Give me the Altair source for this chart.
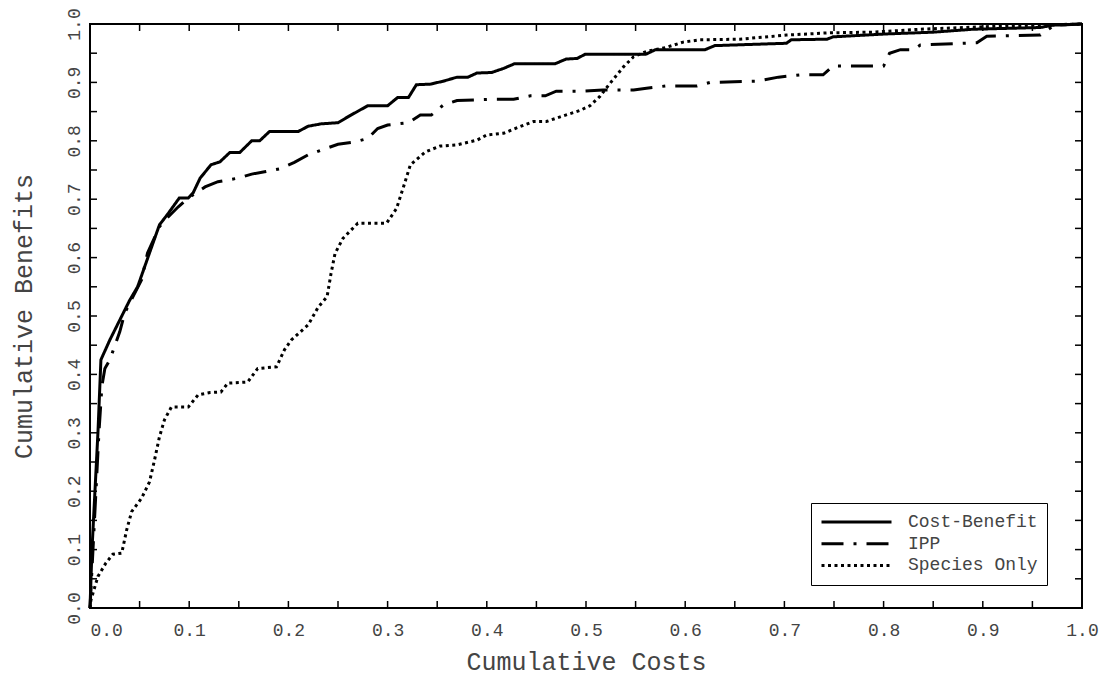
import altair as alt
import pandas as pd

SERIES = ["Cost-Benefit", "IPP", "Species Only"]

CB_X = [0.0, 0.002, 0.005, 0.008, 0.011, 0.020, 0.040, 0.048, 0.060, 0.070, 0.079, 0.090, 0.099, 0.104,
        0.111, 0.122, 0.131, 0.141, 0.151, 0.163, 0.171, 0.181, 0.210, 0.220, 0.233, 0.250, 0.263, 0.280,
        0.300, 0.310, 0.321, 0.329, 0.343, 0.356, 0.370, 0.381, 0.390, 0.405, 0.417, 0.428, 0.469, 0.480,
        0.491, 0.499, 0.560, 0.570, 0.620, 0.630, 0.702, 0.707, 0.743, 0.749, 0.803, 0.850, 0.890, 0.958,
        0.971, 1.0]
CB_Y = [0.0, 0.10, 0.20, 0.30, 0.425, 0.459, 0.527, 0.550, 0.608, 0.656, 0.676, 0.702, 0.702, 0.711,
        0.736, 0.759, 0.764, 0.780, 0.780, 0.800, 0.800, 0.816, 0.816, 0.825, 0.829, 0.831, 0.844, 0.860,
        0.860, 0.874, 0.874, 0.896, 0.897, 0.902, 0.909, 0.909, 0.916, 0.917, 0.924, 0.932, 0.932, 0.940,
        0.941, 0.948, 0.948, 0.956, 0.956, 0.963, 0.967, 0.973, 0.974, 0.978, 0.983, 0.986, 0.991, 0.994,
        0.998, 1.0]

IPP_X = [0.0, 0.003, 0.006, 0.009, 0.012, 0.015, 0.020, 0.030, 0.035, 0.052, 0.058, 0.070, 0.079, 0.089,
         0.099, 0.116, 0.129, 0.149, 0.163, 0.176, 0.191, 0.206, 0.220, 0.233, 0.250, 0.267, 0.280, 0.290,
         0.300, 0.321, 0.333, 0.344, 0.356, 0.370, 0.403, 0.427, 0.444, 0.459, 0.470, 0.494, 0.517, 0.548,
         0.561, 0.581, 0.612, 0.625, 0.672, 0.694, 0.716, 0.739, 0.749, 0.800, 0.806, 0.817, 0.830, 0.837,
         0.894, 0.904, 0.958, 0.968, 0.971, 1.0]
IPP_Y = [0.0, 0.10, 0.20, 0.30, 0.38, 0.41, 0.425, 0.473, 0.505, 0.562, 0.608, 0.653, 0.670, 0.687,
         0.702, 0.721, 0.730, 0.736, 0.743, 0.747, 0.752, 0.763, 0.776, 0.784, 0.794, 0.798, 0.804, 0.821,
         0.827, 0.831, 0.844, 0.844, 0.861, 0.869, 0.871, 0.871, 0.877, 0.877, 0.885, 0.885, 0.887, 0.887,
         0.890, 0.894, 0.894, 0.900, 0.902, 0.909, 0.913, 0.913, 0.928, 0.928, 0.950, 0.956, 0.956, 0.964,
         0.968, 0.979, 0.981, 0.993, 0.998, 1.0]

SP_X = [0.0, 0.001, 0.008, 0.016, 0.023, 0.032, 0.037, 0.042, 0.052, 0.060, 0.065, 0.070, 0.075, 0.082,
        0.099, 0.109, 0.121, 0.132, 0.139, 0.159, 0.169, 0.188, 0.196, 0.203, 0.220, 0.230, 0.239, 0.243,
        0.247, 0.255, 0.270, 0.299, 0.309, 0.316, 0.323, 0.338, 0.353, 0.370, 0.390, 0.400, 0.417, 0.433,
        0.447, 0.460, 0.474, 0.494, 0.504, 0.514, 0.524, 0.538, 0.548, 0.561, 0.581, 0.598, 0.615, 0.655,
        0.702, 0.746, 0.789, 0.837, 0.897, 0.927, 1.0]
SP_Y = [0.0, 0.014, 0.054, 0.077, 0.092, 0.094, 0.134, 0.165, 0.188, 0.216, 0.253, 0.293, 0.322, 0.344,
        0.344, 0.365, 0.369, 0.370, 0.385, 0.387, 0.410, 0.413, 0.442, 0.459, 0.485, 0.515, 0.533, 0.573,
        0.607, 0.633, 0.659, 0.659, 0.684, 0.721, 0.759, 0.781, 0.791, 0.793, 0.801, 0.810, 0.813, 0.824,
        0.833, 0.833, 0.841, 0.852, 0.860, 0.876, 0.898, 0.927, 0.944, 0.953, 0.960, 0.969, 0.973, 0.974,
        0.981, 0.985, 0.986, 0.991, 0.995, 0.997, 1.0]

TICKS = [0.0, 0.05, 0.1, 0.15, 0.2, 0.25, 0.3, 0.35, 0.4, 0.45, 0.5,
         0.55, 0.6, 0.65, 0.7, 0.75, 0.8, 0.85, 0.9, 0.95, 1.0]
LABEL_TICKS = [0.0, 0.1, 0.2, 0.3, 0.4, 0.5, 0.6, 0.7, 0.8, 0.9, 1.0]

rows = []
for name, xs, ys in zip(SERIES, [CB_X, IPP_X, SP_X], [CB_Y, IPP_Y, SP_Y]):
    for i, (x, y) in enumerate(zip(xs, ys)):
        rows.append({"series": name, "cost": x, "benefit": y, "i": i})
df = pd.DataFrame(rows)
ticks_df = pd.DataFrame({"t": TICKS})

W, H = 992, 584
FONT = "Liberation Mono"
TXT = "#444444"
TICK_LEN = 7

xscale = alt.Scale(domain=[0, 1], nice=False, zero=False)
yscale = alt.Scale(domain=[0, 1], nice=False, zero=False)

x_axis = alt.Axis(
    values=LABEL_TICKS, format=".1f", ticks=False, tickSize=0, domain=False, grid=False,
    labelFont=FONT, labelFontSize=18, labelColor=TXT, labelPadding=27,
    labelBaseline="alphabetic", labelOverlap=False,
    labelAlign={"condition": {"test": "datum.value <= 0", "value": "left"}, "value": "center"},
    title="Cumulative Costs", titleFont=FONT, titleFontSize=25, titleFontWeight="normal",
    titleColor=TXT, titleX=W / 2, titleY=61, titleAlign="center", titleBaseline="alphabetic",
)
y_axis = alt.Axis(
    values=LABEL_TICKS, format=".1f", ticks=False, tickSize=0, domain=False, grid=False,
    labelFont=FONT, labelFontSize=18, labelColor=TXT, labelPadding=11, labelAngle=270,
    labelAlign="center", labelBaseline="alphabetic", labelOverlap=False,
    title="Cumulative Benefits", titleFont=FONT, titleFontSize=25, titleFontWeight="normal",
    titleColor=TXT, titleX=-59, titleY=H / 2, titleAngle=270, titleAlign="center",
    titleBaseline="alphabetic",
)

lines = alt.Chart(df).mark_line(color="black", strokeWidth=3).encode(
    x=alt.X("cost:Q", scale=xscale, axis=x_axis),
    y=alt.Y("benefit:Q", scale=yscale, axis=y_axis),
    strokeDash=alt.StrokeDash(
        "series:N",
        scale=alt.Scale(domain=SERIES, range=[[1, 0], [22, 10, 3, 10], [3, 3.5]]),
        legend=alt.Legend(
            title=None, orient="none", legendX=721, legendY=479,
            symbolType="stroke", symbolSize=4900, symbolStrokeWidth=3,
            symbolStrokeColor="black", clipHeight=20, rowPadding=1.7, labelOffset=15,
            padding=9, strokeColor="black", fillColor="white", cornerRadius=0,
            labelFont=FONT, labelFontSize=18, labelColor=TXT,
        ),
    ),
    order=alt.Order("i:Q"),
)

base_t = alt.Chart(ticks_df).mark_rule(color="black", strokeWidth=1.5)
tick_bottom = base_t.encode(x=alt.X("t:Q", scale=xscale, axis=x_axis),
                            y=alt.value(H), y2=alt.value(H - TICK_LEN))
tick_top = base_t.encode(x=alt.X("t:Q", scale=xscale, axis=x_axis),
                         y=alt.value(0), y2=alt.value(TICK_LEN))
tick_left = base_t.encode(y=alt.Y("t:Q", scale=yscale, axis=y_axis),
                          x=alt.value(0), x2=alt.value(TICK_LEN))
tick_right = base_t.encode(y=alt.Y("t:Q", scale=yscale, axis=y_axis),
                           x=alt.value(W), x2=alt.value(W - TICK_LEN))

chart = alt.layer(lines, tick_bottom, tick_top, tick_left, tick_right).properties(
    width=W, height=H,
    padding={"left": 82, "top": 16, "right": 21, "bottom": 68},
    autosize=alt.AutoSizeParams(type="none"),
    background="white",
).configure_view(stroke="black", strokeWidth=2)

chart.save("out.html", embed_options={"renderer": "svg", "actions": False})
